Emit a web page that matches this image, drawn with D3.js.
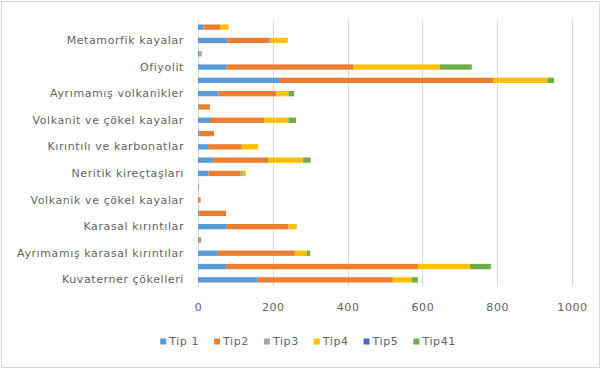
<!DOCTYPE html>
<html>
<head>
<meta charset="utf-8">
<script src="https://cdn.jsdelivr.net/npm/d3@7"></script>
<style>
  html, body { margin: 0; padding: 0; background: #fff; }
  svg { display: block; font-family: "DejaVu Sans", "Open Sans", sans-serif; }
  .lbl { fill: #636363; font-size: 11px; letter-spacing: 0.6px; }
</style>
</head>
<body>
<svg id="chart" width="601" height="369"></svg>
<script>
// Rock units, listed bottom to top (first category sits at the bottom).
const categories = [
  "Kuvaterner çökelleri",
  "Yamaç molozu",
  "Ayrımamış karasal kırıntılar",
  "Travertenler",
  "Karasal kırıntılar",
  "Kumtaşı-şeyl ardalanması",
  "Volkanik ve çökel kayalar",
  "Jipsler",
  "Neritik kireçtaşları",
  "Fliş",
  "Kırıntılı ve karbonatlar",
  "Marnlar",
  "Volkanit ve çökel kayalar",
  "Piroklastikler",
  "Ayrımamış volkanikler",
  "Ayrımamış kireçtaşları",
  "Ofiyolit",
  "Serpantinitler",
  "Metamorfik kayalar",
  "Mermerler"
];

const seriesNames = ["Tip 1", "Tip2", "Tip3", "Tip4", "Tip5", "Tip41"];

const tip1  = [160,  75, 53, 3, 77,  3, 2, 0, 28,  40, 27,  5,  32,  3,  55, 219,  77, 3,  78, 15];
const tip2  = [361, 513, 206, 5, 165, 72, 5, 0, 86, 147, 90, 38, 145, 29, 155, 570, 338, 0, 112, 45];
const tip3  = [  0,   0,  0, 0,  0,  0, 0, 3,  6,   0,  0,  0,   0,  0,   0,   0,   0, 7,   5,  0];
const tip4  = [ 50, 139, 32, 0, 22,  0, 0, 0,  8,  94, 44,  0,  65,  0,  32, 145, 232, 0,  45, 22];
const tip5  = [  0,   0,  0, 0,  0,  0, 0, 0,  0,   0,  0,  0,   0,  0,   0,   0,   0, 0,   0,  0];
const tip41 = [ 17,  56,  9, 0,  0,  0, 0, 0,  0,  20,  0,  0,  20,  0,  15,  18,  85, 0,   0,  0];

const xTicks = [0, 200, 400, 600, 800, 1000];
const colors = ["#5B9BD5", "#ED7D31", "#A5A5A5", "#FFC000", "#4472C4", "#70AD47"];

const seriesValues = [tip1, tip2, tip3, tip4, tip5, tip41];
const rows = categories.map((c, i) => {
  const r = { cat: c };
  seriesNames.forEach((s, k) => { r[s] = seriesValues[k][i]; });
  return r;
});

const svg = d3.select("#chart");
const W = 601, H = 369;
const plot = { left: 198, right: 572, top: 20.5, bottom: 286.5 };

// chart frame
svg.append("rect")
  .attr("x", 1.5).attr("y", 1.5)
  .attr("width", W - 3).attr("height", H - 3)
  .attr("fill", "#fff").attr("stroke", "#d9d9d9").attr("stroke-width", 1);

const x = d3.scaleLinear().domain([0, 1000]).range([plot.left, plot.right]);
const y = d3.scaleBand()
  .domain(categories.slice().reverse())
  .range([plot.top, plot.bottom])
  .paddingInner(0.6).paddingOuter(0.3);

// vertical gridlines
svg.append("g")
  .selectAll("line")
  .data(xTicks)
  .join("line")
  .attr("x1", d => Math.round(x(d)) + 0.5).attr("x2", d => Math.round(x(d)) + 0.5)
  .attr("y1", plot.top).attr("y2", plot.bottom)
  .attr("stroke", "#d9d9d9").attr("stroke-width", 1);

// stacked bars
const stack = d3.stack().keys(seriesNames);
const stacked = stack(rows);

svg.append("g")
  .selectAll("g")
  .data(stacked)
  .join("g")
  .attr("fill", (d, i) => colors[i])
  .selectAll("rect")
  .data(d => d.map(v => ({ v, cat: v.data.cat })))
  .join("rect")
  .attr("x", d => x(d.v[0]))
  .attr("width", d => Math.max(0, x(d.v[1]) - x(d.v[0])))
  .attr("y", d => y(d.cat))
  .attr("height", y.bandwidth());

// category axis: every other label shown, as space allows
const shown = categories.filter((c, i) => i % 2 === 0);
const yAxis = d3.axisLeft(y).tickValues(shown).tickSize(0).tickPadding(14);
const gy = svg.append("g").attr("transform", `translate(${plot.left},0)`).call(yAxis);
gy.select(".domain").remove();
gy.selectAll("text").attr("class", "lbl").attr("fill", null);
gy.attr("font-family", null).attr("font-size", null);

// value axis labels
const xAxis = d3.axisBottom(x).tickValues(xTicks).tickFormat(d3.format("d")).tickSize(0).tickPadding(17);
const gx = svg.append("g").attr("transform", `translate(0,${plot.bottom})`).call(xAxis);
gx.select(".domain").remove();
gx.selectAll("text").attr("class", "lbl").attr("fill", null);
gx.attr("font-family", null).attr("font-size", null);

// legend
const legend = svg.append("g");
const items = legend.selectAll("g")
  .data(seriesNames)
  .join("g");
items.append("rect")
  .attr("width", 6).attr("height", 6)
  .attr("y", -3)
  .attr("fill", (d, i) => colors[i]);
items.append("text")
  .attr("class", "lbl")
  .attr("x", 9)
  .attr("dy", "0.35em")
  .text(d => d);

const gap = 15;
let cursor = 0;
items.each(function () {
  const g = d3.select(this);
  g.attr("transform", `translate(${cursor},0)`);
  const w = 9 + g.select("text").node().getComputedTextLength();
  cursor += w + gap;
});
const totalW = cursor - gap;
legend.attr("transform", `translate(${(158 + 458) / 2 - totalW / 2},341.5)`);
</script>
</body>
</html>
